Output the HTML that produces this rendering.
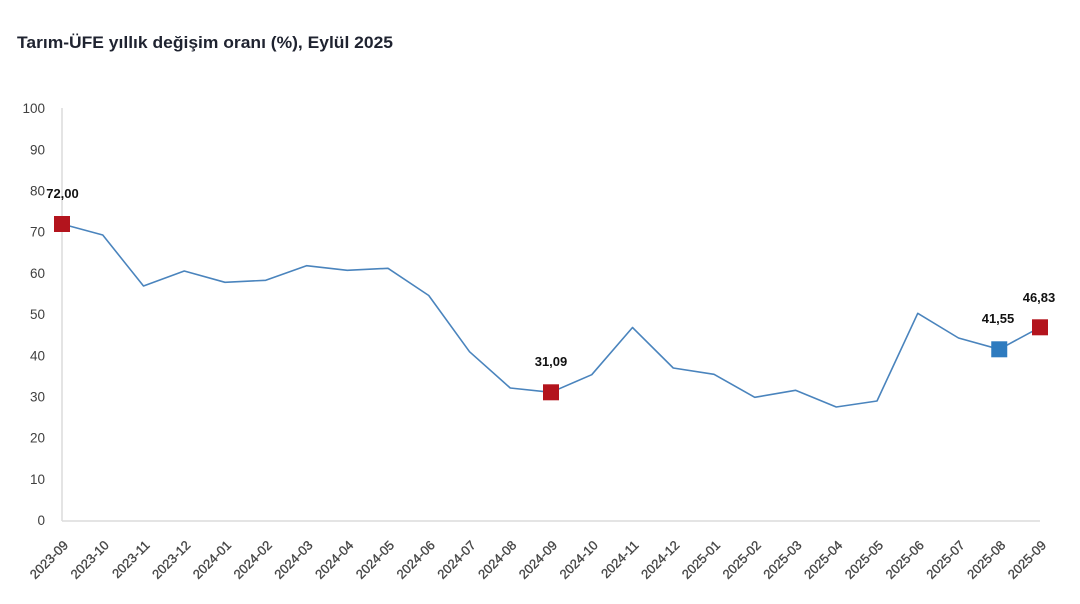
<!DOCTYPE html>
<html>
<head>
<meta charset="utf-8">
<style>
  html, body { margin:0; padding:0; background:#ffffff; }
  body { width:1080px; height:604px; overflow:hidden; }
  svg { display:block; font-family:"Liberation Sans", "DejaVu Sans", sans-serif; }
  .yt { font-size:13.5px; fill:#404040; }
  .xt { font-size:13px; fill:#474747; stroke:#474747; stroke-width:0.35px; }
  .dl { font-size:13px; font-weight:bold; fill:#111; }
</style>
</head>
<body>
<svg width="1080" height="604" viewBox="0 0 1080 604" xmlns="http://www.w3.org/2000/svg">
  <rect width="1080" height="604" fill="#fff"/>
  <text x="17" y="48" font-size="17px" font-weight="bold" fill="#1f2330" textLength="376" lengthAdjust="spacingAndGlyphs">Tarım-ÜFE yıllık değişim oranı (%), Eylül 2025</text>

  <!-- axes -->
  <line x1="62" y1="108" x2="62" y2="521" stroke="#dcdcdc" stroke-width="1.5"/>
  <line x1="62" y1="521" x2="1040" y2="521" stroke="#dcdcdc" stroke-width="1.5"/>

  <!-- y ticks -->
  <g class="yt" text-anchor="end">
    <text x="45" y="113">100</text>
    <text x="45" y="154.5">90</text>
    <text x="45" y="195.5">80</text>
    <text x="45" y="236.5">70</text>
    <text x="45" y="278">60</text>
    <text x="45" y="319">50</text>
    <text x="45" y="360.5">40</text>
    <text x="45" y="401.5">30</text>
    <text x="45" y="442.5">20</text>
    <text x="45" y="484">10</text>
    <text x="45" y="525">0</text>
  </g>

  <!-- x ticks -->
  <g class="xt" text-anchor="end">
    <text transform="translate(69,546) rotate(-45)">2023-09</text>
    <text transform="translate(109.75,546) rotate(-45)">2023-10</text>
    <text transform="translate(150.5,546) rotate(-45)">2023-11</text>
    <text transform="translate(191.25,546) rotate(-45)">2023-12</text>
    <text transform="translate(232,546) rotate(-45)">2024-01</text>
    <text transform="translate(272.75,546) rotate(-45)">2024-02</text>
    <text transform="translate(313.5,546) rotate(-45)">2024-03</text>
    <text transform="translate(354.25,546) rotate(-45)">2024-04</text>
    <text transform="translate(395,546) rotate(-45)">2024-05</text>
    <text transform="translate(435.75,546) rotate(-45)">2024-06</text>
    <text transform="translate(476.5,546) rotate(-45)">2024-07</text>
    <text transform="translate(517.25,546) rotate(-45)">2024-08</text>
    <text transform="translate(558,546) rotate(-45)">2024-09</text>
    <text transform="translate(598.75,546) rotate(-45)">2024-10</text>
    <text transform="translate(639.5,546) rotate(-45)">2024-11</text>
    <text transform="translate(680.25,546) rotate(-45)">2024-12</text>
    <text transform="translate(721,546) rotate(-45)">2025-01</text>
    <text transform="translate(761.75,546) rotate(-45)">2025-02</text>
    <text transform="translate(802.5,546) rotate(-45)">2025-03</text>
    <text transform="translate(843.25,546) rotate(-45)">2025-04</text>
    <text transform="translate(884,546) rotate(-45)">2025-05</text>
    <text transform="translate(924.75,546) rotate(-45)">2025-06</text>
    <text transform="translate(965.5,546) rotate(-45)">2025-07</text>
    <text transform="translate(1006.25,546) rotate(-45)">2025-08</text>
    <text transform="translate(1047,546) rotate(-45)">2025-09</text>
  </g>

  <!-- series line -->
  <polyline fill="none" stroke="#4a84bd" stroke-width="1.6" stroke-linejoin="round"
    points="62,224 102.75,235 143.5,286 184.25,271 225,282.3 265.75,280.3 306.5,265.7 347.25,270.3 388,268.3 428.75,295.5 469.5,351.7 510.25,388 551,392.3 591.75,374.7 632.5,327.5 673.25,368 714,374.3 754.75,397.3 795.5,390.3 836.25,407 877,401 917.75,313.3 958.5,338 999.25,349.3 1040,327.3"/>

  <!-- markers -->
  <rect x="54" y="216" width="16" height="16" fill="#b3141d"/>
  <rect x="543" y="384.3" width="16" height="16" fill="#b3141d"/>
  <rect x="991.25" y="341.3" width="16" height="16" fill="#2e7bbf"/>
  <rect x="1032" y="319.3" width="16" height="16" fill="#b3141d"/>

  <!-- data labels -->
  <g class="dl" text-anchor="middle">
    <text x="62.5" y="198">72,00</text>
    <text x="551" y="366">31,09</text>
    <text x="998" y="323">41,55</text>
    <text x="1039" y="302">46,83</text>
  </g>
</svg>
</body>
</html>
